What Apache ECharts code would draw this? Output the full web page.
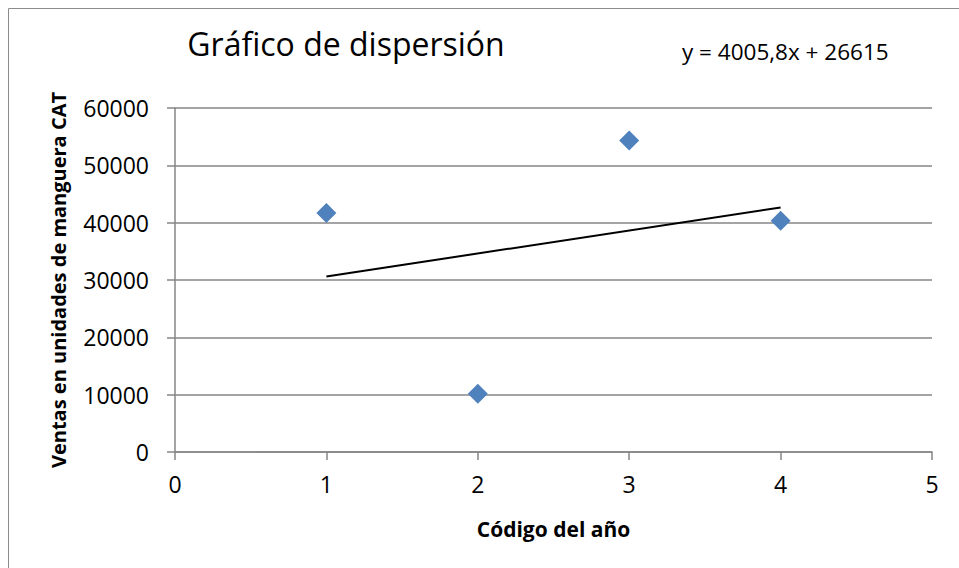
<!DOCTYPE html>
<html>
<head>
<meta charset="utf-8">
<script src="https://cdn.jsdelivr.net/npm/echarts@6/dist/echarts.min.js"></script>
<style>
  html, body { margin: 0; padding: 0; background: #fff; }
  #chart { width: 959px; height: 568px; }
</style>
</head>
<body>
<div id="chart"></div>
<script>
  // Datos
  var codigoAnio = [1, 2, 3, 4];
  var ventas = [41700, 10150, 54350, 40318];
  var tendenciaX = [1, 4];
  var tendenciaY = [30621, 42638];
  var ecuacion = 'y = 4005,8x + 26615';

  var chart = echarts.init(document.getElementById('chart'), null, { renderer: 'svg' });
  var axisGray = '#868686', ink = '#000', font = 'Open Sans';

  chart.setOption({
    animation: false,
    title: {
      text: 'Gráfico de dispersión',
      left: 341, top: 22, textAlign: 'center',
      textStyle: { fontFamily: font, fontSize: 32, fontWeight: 'normal', color: ink }
    },
    graphic: [
      { type: 'rect', shape: { x: 8.5, y: 8.5, width: 1000, height: 1000 }, style: { fill: 'none', stroke: '#8c8c8c', lineWidth: 1 } },
      { type: 'text', left: 682, top: 40, style: { text: ecuacion, font: '22.5px "Open Sans"', fill: ink } }
    ],
    grid: { left: 175, right: 27, top: 108, bottom: 116 },
    xAxis: {
      type: 'value', min: 0, max: 5, interval: 1,
      name: 'Código del año', nameLocation: 'middle', nameGap: 66,
      nameTextStyle: { fontFamily: font, fontSize: 21, fontWeight: 'bold', color: ink },
      axisLine: { show: true, lineStyle: { color: axisGray, width: 1.5 } },
      axisTick: { show: true, length: 8, lineStyle: { color: axisGray, width: 1.5 } },
      axisLabel: { fontFamily: font, fontSize: 23, color: ink, margin: 20 },
      splitLine: { show: false }
    },
    yAxis: {
      type: 'value', min: 0, max: 60000, interval: 10000,
      name: 'Ventas en unidades de manguera CAT', nameLocation: 'middle', nameGap: 107,
      nameTextStyle: { fontFamily: font, fontSize: 20, fontWeight: 'bold', color: ink },
      axisLine: { show: true, lineStyle: { color: axisGray, width: 1.5 } },
      axisTick: { show: true, length: 8, lineStyle: { color: axisGray, width: 1.5 } },
      axisLabel: { fontFamily: font, fontSize: 23, color: ink, margin: 26, formatter: function(v) { return String(v); } },
      splitLine: { show: true, lineStyle: { color: axisGray, width: 1.5 } }
    },
    series: [
      {
        type: 'line',
        data: tendenciaX.map(function(x, i) { return [x, tendenciaY[i]]; }),
        symbol: 'none',
        lineStyle: { color: '#000', width: 2 },
        z: 3
      },
      {
        type: 'scatter',
        data: codigoAnio.map(function(x, i) { return [x, ventas[i]]; }),
        symbol: 'diamond', symbolSize: [20, 20],
        itemStyle: { color: '#4F81BD', opacity: 1 },
        z: 4
      }
    ]
  });
</script>
</body>
</html>
